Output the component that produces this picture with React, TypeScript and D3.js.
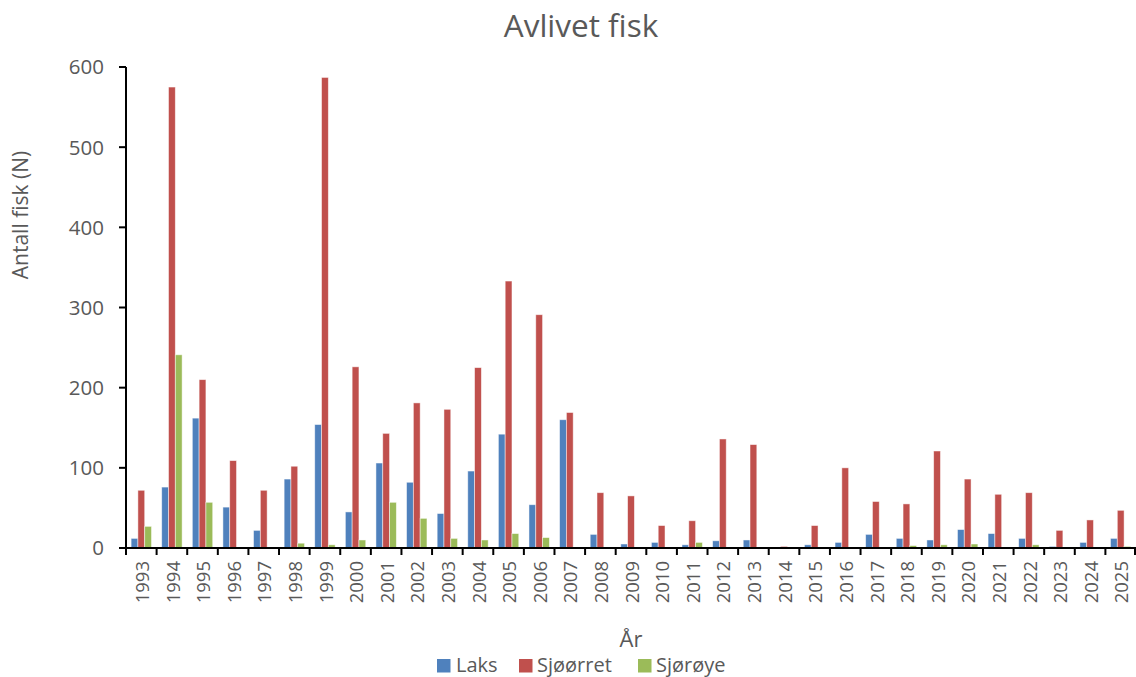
import React from "react";
import * as d3 from "d3";

const years = ["1993","1994","1995","1996","1997","1998","1999","2000","2001","2002","2003","2004","2005","2006","2007","2008","2009","2010","2011","2012","2013","2014","2015","2016","2017","2018","2019","2020","2021","2022","2023","2024","2025"];
const laks = [12,76,162,51,22,86,154,45,106,82,43,96,142,54,160,17,5,7,4,9,10,0,4,7,17,12,10,23,18,12,2,7,12];
const sjoorret = [72,575,210,109,72,102,587,226,143,181,173,225,333,291,169,69,65,28,34,136,129,2,28,100,58,55,121,86,67,69,22,35,47];
const sjoroye = [27,241,57,0,0,6,4,10,57,37,12,10,18,13,1,0,0,0,7,0,1,0,0,0,0,3,4,5,0,4,1,0,2];
const yTicks = [0,100,200,300,400,500,600];
const seriesNames = ["Laks","Sjøørret","Sjørøye"];
const seriesColors = ["#4F81BD","#C0504D","#9BBB59"];

const W = 1136, H = 677;
const FONT = "Open Sans, Lato, sans-serif";
const TXT = "#595959";

export default function App() {
  const left = 126, right = 1136, top = 67, bottom = 548;
  const x0 = d3.scaleBand<string>().domain(years).range([left, right]).padding(0);
  const x1 = d3.scaleBand<string>().domain(seriesNames).range([5.1, x0.bandwidth() - 5.1]).padding(0);
  const y = d3.scaleLinear().domain([0, 600]).range([bottom, top]);
  const data = [laks, sjoorret, sjoroye];

  const legendItems = [
    { name: "Laks", sx: 437, tx: 456 },
    { name: "Sjøørret", sx: 519, tx: 537 },
    { name: "Sjørøye", sx: 638, tx: 656 },
  ];

  return (
    <svg width={W} height={H} style={{ position: "absolute", left: 0, top: 0, background: "#fff" }} fontFamily={FONT}>
      <text x={581} y={37} textAnchor="middle" fontSize={31.5} fill={TXT}>Avlivet fisk</text>
      <text transform={`translate(28,215) rotate(-90)`} textAnchor="middle" fontSize={21} fill={TXT}>Antall fisk (N)</text>

      {/* bars */}
      {seriesNames.map((s, si) => (
        <g key={s}>
          {years.map((yr, i) => {
            const v = data[si][i];
            if (!v) return null;
            const bx = (x0(yr) as number) + (x1(s) as number);
            return (
              <rect key={yr} x={bx} y={y(v)} width={x1.bandwidth()} height={y(0) - y(v)}
                fill={seriesColors[si]} stroke="#ffffff" strokeOpacity={0.6} strokeWidth={0.8} />
            );
          })}
        </g>
      ))}

      {/* y axis */}
      <line x1={left} x2={left} y1={top} y2={bottom} stroke="#000" strokeWidth={2} />
      {yTicks.map((t) => (
        <g key={t}>
          <line x1={left - 7} x2={left} y1={y(t)} y2={y(t)} stroke="#000" strokeWidth={2} />
          <text x={104} y={y(t)} dy="0.36em" textAnchor="end" fontSize={20.5} fill={TXT}>{t}</text>
        </g>
      ))}

      {/* x axis */}
      <line x1={left} x2={right} y1={bottom} y2={bottom} stroke="#000" strokeWidth={2} />
      {years.map((yr) => (
        <line key={"t" + yr} x1={(x0(yr) as number)} x2={(x0(yr) as number)} y1={bottom} y2={bottom + 7} stroke="#000" strokeWidth={2} />
      ))}
      <line x1={right - 1} x2={right - 1} y1={bottom} y2={bottom + 7} stroke="#000" strokeWidth={2} />
      {years.map((yr) => {
        const cx = (x0(yr) as number) + x0.bandwidth() / 2;
        return (
          <text key={"l" + yr} transform={`translate(${cx + 1},561) rotate(-90)`} dy="0.36em" textAnchor="end" fontSize={18.5} fill={TXT}>{yr}</text>
        );
      })}

      <text x={631} y={647} textAnchor="middle" fontSize={22} fill={TXT}>År</text>

      {legendItems.map((it, i) => (
        <g key={it.name}>
          <rect x={it.sx} y={659} width={13.5} height={13.5} fill={seriesColors[i]} />
          <text x={it.tx} y={672} fontSize={20} fill={TXT}>{it.name}</text>
        </g>
      ))}
    </svg>
  );
}
